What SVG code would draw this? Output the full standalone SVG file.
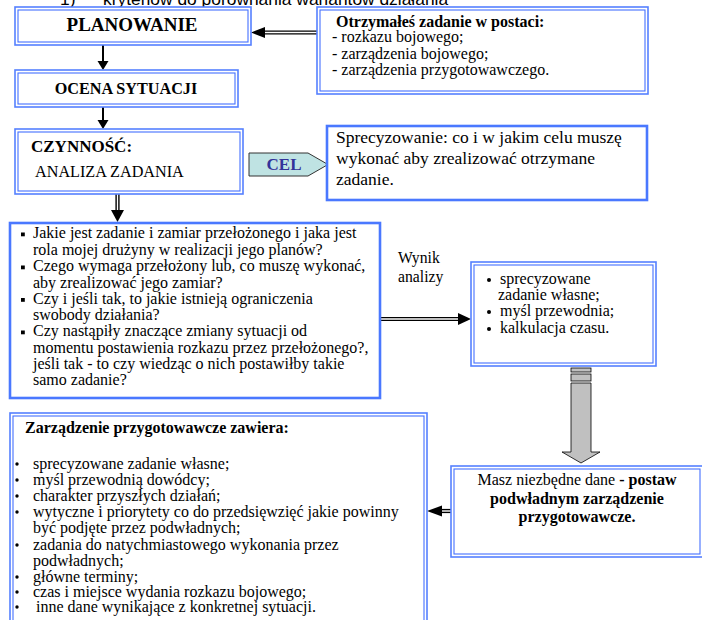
<svg xmlns="http://www.w3.org/2000/svg" width="702" height="620" viewBox="0 0 702 620">
<defs>
<style>
.o{fill:#fff;stroke:#5580ff;stroke-width:1.6}
.i{fill:none;stroke:#4470ff;stroke-width:1.1}
.s{fill:#fff;stroke:#4a78ff;stroke-width:2.6}
.t{fill:#000}
.b{font-weight:bold}
.ln{stroke:#000;stroke-width:2;fill:none}
.dl{stroke:#000;stroke-width:4.2;fill:none}
.dw{stroke:#fff;stroke-width:1.4;fill:none}
.hd{fill:#000}
</style>
</defs>
<text x="60" y="5" font-family="Liberation Sans, Arial, sans-serif" font-size="17.4">1)<tspan x="103">kryteriów do porównania wariantów działania</tspan></text>

<g id="connectors">
  <line class="ln" x1="103" y1="45" x2="103" y2="62"/>
  <polygon class="hd" points="97.5,61 108.5,61 103,70"/>
  <line class="ln" x1="103" y1="107" x2="103" y2="121"/>
  <polygon class="hd" points="97.5,120 108.5,120 103,129"/>
  <line class="dl" x1="317" y1="32.5" x2="262" y2="32.5"/>
  <line class="dw" x1="317" y1="32.5" x2="262" y2="32.5"/>
  <polygon class="hd" points="251,32.5 265,27 265,38"/>
  <line class="dl" x1="117.5" y1="194" x2="117.5" y2="211"/>
  <line class="dw" x1="117.5" y1="194" x2="117.5" y2="211"/>
  <polygon class="hd" points="111,210 124,210 117.5,222"/>
  <line class="dl" x1="380" y1="319" x2="460" y2="319"/>
  <line class="dw" x1="380" y1="319" x2="460" y2="319"/>
  <polygon class="hd" points="471,319 458,313 458,325"/>
  <line class="dl" x1="451" y1="511" x2="440" y2="511"/>
  <line class="dw" x1="451" y1="511" x2="440" y2="511"/>
  <polygon class="hd" points="427,511 442,505.5 442,516.5"/>
  <g fill="#c0c0c0" stroke="#000" stroke-width="0.8">
    <rect x="571" y="368" width="20" height="4"/>
    <rect x="571" y="374" width="20" height="7"/>
    <polygon points="571,383 591,383 591,452 600,452 581,463 562,452 571,452"/>
  </g>
</g>

<g font-family="Liberation Serif, DejaVu Serif, serif">
<g id="planowanie">
  <rect class="o" x="15" y="7" width="236" height="38"/>
  <rect class="i" x="18" y="10" width="230" height="32"/>
  <text class="t b" x="132" y="31" text-anchor="middle" font-size="19">PLANOWANIE</text>
</g>

<g id="ocena">
  <rect class="o" x="15" y="70" width="223" height="37"/>
  <rect class="i" x="18" y="73" width="217" height="31"/>
  <text class="t b" x="126" y="93.5" text-anchor="middle" font-size="16.2">OCENA SYTUACJI</text>
</g>

<g id="czynnosc">
  <rect class="o" x="15" y="129" width="228" height="65"/>
  <rect class="i" x="18" y="132" width="222" height="59"/>
  <text class="t b" x="31" y="152" font-size="17">CZYNNOŚĆ:</text>
  <text class="t" x="35" y="177" font-size="16.2">ANALIZA ZADANIA</text>
</g>

<g id="cel">
  <polygon points="249,153 308,153 328,164.5 308,176 249,176" fill="#bfe3e3" stroke="#333" stroke-width="1"/>
  <text x="284" y="170" text-anchor="middle" font-size="17" font-weight="bold" fill="#33339a">CEL</text>
</g>

<g id="otrzymales">
  <rect class="o" x="317" y="7" width="331" height="87"/>
  <rect class="i" x="320" y="10" width="325" height="81"/>
  <g class="t" font-size="16">
    <text class="b" x="336" y="27">Otrzymałeś zadanie w postaci:</text>
    <text x="332" y="42">- rozkazu bojowego;</text>
    <text x="332" y="58.5">- zarządzenia bojowego;</text>
    <text x="332" y="75">- zarządzenia przygotowawczego.</text>
  </g>
</g>

<g id="sprecyzowanie">
  <rect class="s" x="327" y="126" width="320" height="74"/>
  <g class="t" font-size="17.5">
    <text x="336" y="143">Sprecyzowanie: co i w jakim celu muszę</text>
    <text x="336" y="164">wykonać aby zrealizować otrzymane</text>
    <text x="336" y="184.5">zadanie.</text>
  </g>
</g>

<g id="pytania">
  <rect class="s" x="10" y="223" width="370" height="175"/>
  <g fill="#000">
    <rect x="21" y="232.5" width="3.8" height="3.8"/>
    <rect x="21" y="265.5" width="3.8" height="3.8"/>
    <rect x="21" y="298" width="3.8" height="3.8"/>
    <rect x="21" y="330.5" width="3.8" height="3.8"/>
  </g>
  <g class="t" font-size="16">
    <text x="33" y="238">Jakie jest zadanie i zamiar przełożonego i jaka jest</text>
    <text x="33" y="254.5">rola mojej drużyny w realizacji jego planów?</text>
    <text x="33" y="271">Czego wymaga przełożony lub, co muszę wykonać,</text>
    <text x="33" y="287.5">aby zrealizować jego zamiar?</text>
    <text x="33" y="304">Czy i jeśli tak, to jakie istnieją ograniczenia</text>
    <text x="33" y="320">swobody działania?</text>
    <text x="33" y="336">Czy nastąpiły znaczące zmiany sytuacji od</text>
    <text x="33" y="352.5">momentu postawienia rozkazu przez przełożonego?,</text>
    <text x="33" y="369">jeśli tak - to czy wiedząc o nich postawiłby takie</text>
    <text x="33" y="385">samo zadanie?</text>
  </g>
</g>

<g id="wynik">
  <text class="t" x="398" y="263" font-size="15.7">Wynik</text>
  <text class="t" x="398" y="282" font-size="15.7">analizy</text>
</g>

<g id="rezultat">
  <rect class="o" x="471" y="262" width="185" height="104"/>
  <rect class="i" x="474" y="265" width="179" height="98"/>
  <g fill="#000">
    <circle cx="489" cy="280" r="2"/>
    <circle cx="489" cy="312" r="2"/>
    <circle cx="489" cy="329" r="2"/>
  </g>
  <g class="t" font-size="16">
    <text x="500" y="284">sprecyzowane</text>
    <text x="498" y="300">zadanie własne;</text>
    <text x="500" y="316">myśl przewodnia;</text>
    <text x="500" y="333">kalkulacja czasu.</text>
  </g>
</g>

<g id="masz">
  <rect class="o" x="451" y="466" width="252" height="91"/>
  <rect class="i" x="454" y="469" width="246" height="85"/>
  <g class="t" font-size="16" text-anchor="middle">
    <text x="577" y="485">Masz niezbędne dane <tspan font-weight="bold">- postaw</tspan></text>
    <text x="577" y="504" font-weight="bold">podwładnym zarządzenie</text>
    <text x="577" y="522" font-weight="bold">przygotowawcze.</text>
  </g>
</g>

<g id="zarzadzenie">
  <rect class="o" x="10" y="413" width="417" height="215"/>
  <rect class="i" x="13" y="416" width="411" height="210"/>
  <text class="t b" x="25" y="433" font-size="16">Zarządzenie przygotowawcze zawiera:</text>
  <g fill="#000">
    <circle cx="17" cy="464" r="1.7"/>
    <circle cx="17" cy="480" r="1.7"/>
    <circle cx="17" cy="496" r="1.7"/>
    <circle cx="17" cy="512" r="1.7"/>
    <circle cx="17" cy="545" r="1.7"/>
    <circle cx="17" cy="577" r="1.7"/>
    <circle cx="17" cy="592" r="1.7"/>
    <circle cx="17" cy="607" r="1.7"/>
  </g>
  <g class="t" font-size="16">
    <text x="33" y="469">sprecyzowane zadanie własne;</text>
    <text x="33" y="485">myśl przewodnią dowódcy;</text>
    <text x="33" y="501">charakter przyszłych działań;</text>
    <text x="33" y="517">wytyczne i priorytety co do przedsięwzięć jakie powinny</text>
    <text x="33" y="533">być podjęte przez podwładnych;</text>
    <text x="33" y="550">zadania do natychmiastowego wykonania przez</text>
    <text x="33" y="566">podwładnych;</text>
    <text x="33" y="582">główne terminy;</text>
    <text x="33" y="597">czas i miejsce wydania rozkazu bojowego;</text>
    <text x="36" y="612">inne dane wynikające z konkretnej sytuacji.</text>
  </g>
</g>
</g>
</svg>
